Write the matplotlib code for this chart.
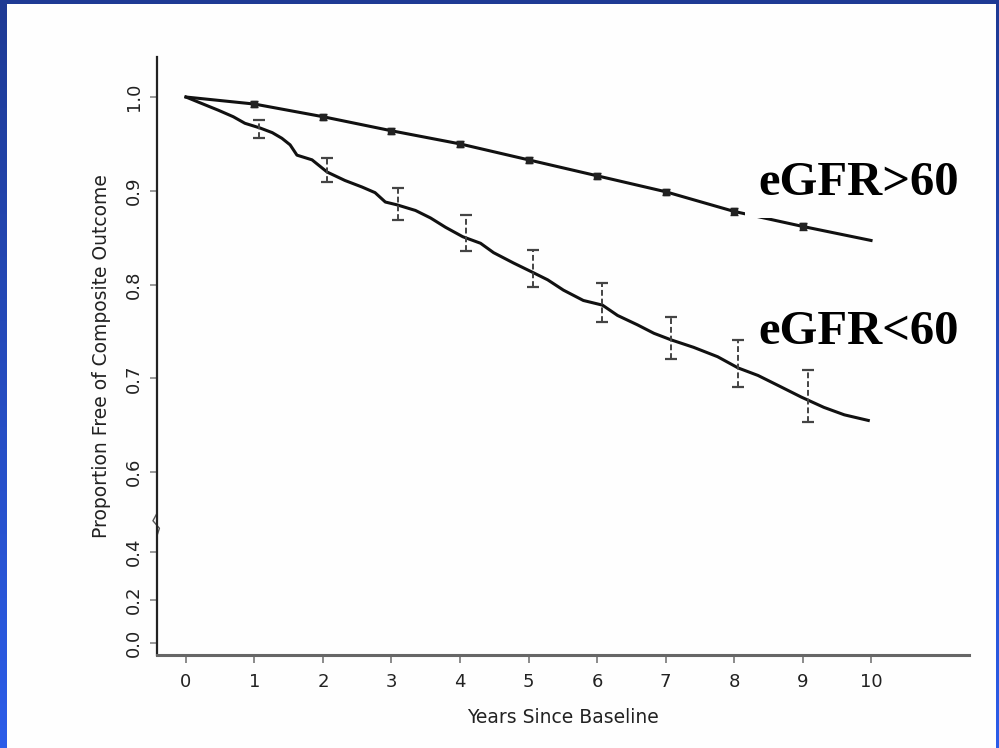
import numpy as np
import matplotlib
matplotlib.use('Agg')
import matplotlib.pyplot as plt
import matplotlib.transforms as mtransforms
from matplotlib.colors import LinearSegmentedColormap
from matplotlib.patches import Rectangle

# eGFR>60 curve (years, proportion free)
years_hi = [0, 1, 2, 3, 4, 5, 6, 7, 8, 9, 10]
surv_hi = [1.0, 0.9925, 0.979, 0.964, 0.950, 0.933, 0.916, 0.899, 0.878, 0.862, 0.847]
err_t_hi = [1, 2, 3, 4, 5, 6, 7, 8, 9]
err_c_hi = [0.9925, 0.979, 0.964, 0.950, 0.933, 0.916, 0.899, 0.878, 0.862]
err_h_hi = [0.003, 0.003, 0.003, 0.003, 0.003, 0.003, 0.003, 0.004, 0.004]

# eGFR<60 curve
years_lo = [0, 0.2, 0.47, 0.69, 0.86, 1.08, 1.26, 1.40, 1.52, 1.62, 1.84, 2.06, 2.32,
            2.57, 2.76, 2.91, 3.08, 3.35, 3.57, 3.79, 4.04, 4.30, 4.49, 4.78, 5.06,
            5.28, 5.51, 5.80, 6.08, 6.30, 6.59, 6.83, 7.08, 7.41, 7.76, 8.06, 8.35,
            8.68, 8.98, 9.31, 9.61, 9.96]
surv_lo = [1.0, 0.994, 0.986, 0.979, 0.972, 0.967, 0.962, 0.956, 0.949, 0.938, 0.933,
           0.920, 0.911, 0.904, 0.898, 0.888, 0.885, 0.879, 0.871, 0.861, 0.851, 0.844,
           0.834, 0.823, 0.813, 0.805, 0.794, 0.783, 0.778, 0.767, 0.757, 0.748, 0.741,
           0.733, 0.723, 0.711, 0.703, 0.691, 0.680, 0.669, 0.661, 0.655]
err_t_lo = [1.07, 2.06, 3.1, 4.09, 5.06, 6.08, 7.08, 8.06, 9.08]
err_c_lo = [0.966, 0.922, 0.886, 0.855, 0.817, 0.781, 0.743, 0.716, 0.681]
err_h_lo = [0.010, 0.013, 0.017, 0.019, 0.020, 0.021, 0.022, 0.025, 0.028]

xticks = [0, 1, 2, 3, 4, 5, 6, 7, 8, 9, 10]
ytick_labels = ['0.0', '0.2', '0.4', '0.6', '0.7', '0.8', '0.9', '1.0']
# broken axis: 0.0-0.4 squeezed below 0.6
ytick_pos = [0.4176, 0.4635, 0.5147, 0.6, 0.7, 0.8, 0.9, 1.0]

fig = plt.figure(figsize=(9.99, 7.48), dpi=100)

# slide background: blue frame with white panel
bg = fig.add_axes([0, 0, 1, 1], zorder=-10)
cmap = LinearSegmentedColormap.from_list('blu', ['#1e3a94', '#2c5de9'])
grad = np.linspace(0, 1, 256).reshape(-1, 1)
bg.imshow(grad, cmap=cmap, aspect='auto', extent=[0, 1, 0, 1], origin='upper')
bg.add_patch(Rectangle((7 / 999, 0), (996 - 7) / 999, (748 - 4) / 748,
                       facecolor='#fefefe', edgecolor='none'))
bg.set_xlim(0, 1)
bg.set_ylim(0, 1)
bg.axis('off')

ax = fig.add_axes([157 / 999, 1 - 655 / 748, (969 - 157) / 999, (655 - 57) / 748])
ax.patch.set_alpha(0)

ax.plot(years_hi, surv_hi, color='#111111', lw=2.2)
ax.errorbar(err_t_hi, err_c_hi, yerr=err_h_hi, fmt='s', ms=4, color='#222222',
            capsize=3, elinewidth=1.5)
ax.plot(years_lo, surv_lo, color='#111111', lw=2.2)
eb = ax.errorbar(err_t_lo, err_c_lo, yerr=err_h_lo, fmt='none', ecolor='#444444',
                 capsize=4, elinewidth=1.4, capthick=1.6)
eb[2][0].set_linestyle((0, (3, 1.5)))

ax.set_xlim(-0.423, 11.43)
ax.set_ylim(0.4048, 1.0427)
ax.set_xticks(xticks)
ax.set_xticklabels([str(v) for v in xticks], fontsize=13)
ax.set_yticks(ytick_pos)
ax.set_yticklabels(ytick_labels, fontsize=13, rotation=90, va='center')

ax.spines['right'].set_color('none')
ax.spines['top'].set_color('none')
ax.spines['left'].set_color('#222222')
ax.spines['left'].set_linewidth(1.6)
ax.spines['bottom'].set_color('#666666')
ax.spines['bottom'].set_linewidth(2.2)
ax.tick_params(axis='x', length=6, width=1.2, color='#777777', pad=7, labelcolor='#222222')
ax.tick_params(axis='y', length=5, width=1.2, color='#888888', pad=5, labelcolor='#222222')

# small break mark on the y axis
trans = mtransforms.blended_transform_factory(ax.transAxes, ax.transData)
ax.plot([0, -0.005, 0.003, 0], [0.556, 0.548, 0.54, 0.532], transform=trans,
        clip_on=False, color='#555555', lw=1)

ax.set_xlabel('Years Since Baseline', fontsize=13.5, labelpad=12, color='#222222')
ax.set_ylabel('Proportion Free of Composite Outcome', fontsize=13.5,
              labelpad=10, color='#222222')

# labels on white boxes
box = dict(facecolor='#fefefe', edgecolor='none', pad=9)
fig.text(758 / 999, 1 - 183 / 748, 'eGFR>60', family='Liberation Serif', fontweight='bold',
         fontsize=35, va='center', ha='left', bbox=box)
fig.text(758 / 999, 1 - 332 / 748, 'eGFR<60', family='Liberation Serif', fontweight='bold',
         fontsize=35, va='center', ha='left', bbox=box)

fig.savefig('out.png', dpi=100)
